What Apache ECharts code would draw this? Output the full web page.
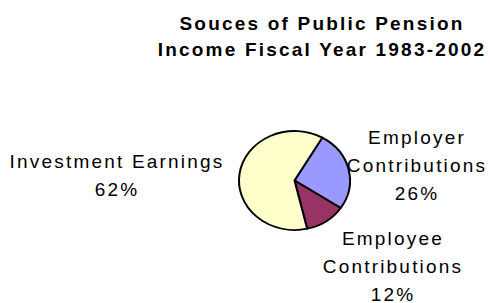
<!DOCTYPE html>
<html>
<head>
<meta charset="utf-8">
<script src="https://cdn.jsdelivr.net/npm/echarts@6/dist/echarts.min.js"></script>
<style>
  html, body { margin: 0; padding: 0; background: #fff; }
  #chart { width: 490px; height: 303px; }
  #chart svg text { letter-spacing: 2.2px; }
  #chart svg path { transform: scaleY(0.892); transform-origin: 294.5px 180.5px; }
</style>
</head>
<body>
<div id="chart"></div>
<script>
// Data
const titleLines = ['Souces of Public Pension', 'Income Fiscal Year 1983-2002'];
const categories = ['Employer Contributions', 'Employee Contributions', 'Investment Earnings'];
const labelNames = ['Employer\nContributions', 'Employee\nContributions', 'Investment Earnings'];
const values = [26, 12, 62];
const colors = ['#9999FF', '#993366', '#FFFFCC'];

// Label anchor positions (text placement only)
const labelPos = [[417, 165], [393, 266], [117, 175]];

const chart = echarts.init(document.getElementById('chart'), null, { renderer: 'svg' });
chart.setOption({
  animation: false,
  backgroundColor: '#ffffff',
  title: {
    text: titleLines.join('\n'),
    left: 322,
    top: 10,
    padding: 0,
    textAlign: 'center',
    textStyle: {
      fontFamily: 'Liberation Sans, Arial, sans-serif',
      fontSize: 19,
      fontWeight: 'bold',
      color: '#000',
      lineHeight: 26
    }
  },
  series: [{
    type: 'pie',
    center: [294.5, 180.5],
    radius: 55.5,
    startAngle: 60,
    clockwise: true,
    silent: true,
    avoidLabelOverlap: false,
    data: categories.map((c, i) => ({
      name: c,
      value: values[i],
      itemStyle: { color: colors[i] },
      label: { formatter: labelNames[i] + '\n{d}%' }
    })),
    itemStyle: { borderColor: '#000', borderWidth: 2 },
    label: {
      show: true,
      position: 'outside',
      overflow: 'none',
      fontFamily: 'Liberation Sans, Arial, sans-serif',
      fontSize: 19,
      color: '#000',
      lineHeight: 28,
      align: 'center'
    },
    labelLine: { show: false },
    labelLayout: function (params) {
      const p = labelPos[params.dataIndex];
      return { x: p[0], y: p[1], align: 'center', verticalAlign: 'middle', hideOverlap: false, moveOverlap: false };
    }
  }]
});
</script>
</body>
</html>
